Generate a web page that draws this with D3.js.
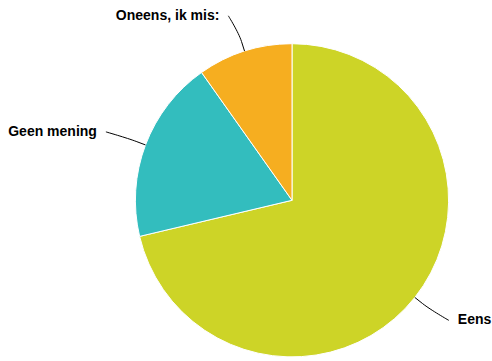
<!DOCTYPE html>
<html>
<head>
<meta charset="utf-8">
<script src="https://cdn.jsdelivr.net/npm/d3@7"></script>
<style>
html,body{margin:0;padding:0;background:#fff;}
svg{display:block;}
text{font-family:"Liberation Sans",Arial,Helvetica,sans-serif;font-weight:bold;font-size:14px;fill:#000;}
</style>
</head>
<body>
<svg id="chart" width="492" height="361"></svg>
<script>
const categories = ["Eens", "Geen mening", "Oneens, ik mis:"];
const values = [71.3, 18.9, 9.8];
const colors = ["#CDD427", "#33BDBE", "#F6AE20"];

const W = 492, H = 361;
const cx = 292, cy = 200.3, r = 156.6;
const svg = d3.select("#chart");
const g = svg.append("g").attr("transform", `translate(${cx},${cy})`);

const pie = d3.pie().sort(null).value(d => d.v);
const arcs = pie(categories.map((c, i) => ({c, v: values[i], col: colors[i]})));
const arc = d3.arc().innerRadius(0).outerRadius(r);

g.selectAll("path.slice").data(arcs).enter().append("path")
  .attr("class", "slice")
  .attr("d", arc)
  .attr("fill", d => d.data.col)
  .attr("stroke", "#fff")
  .attr("stroke-width", 1)
  .attr("stroke-linejoin", "round");

function polar(a, rad) { return [rad * Math.sin(a), -rad * Math.cos(a)]; }

const labelR = r + 37;
arcs.forEach(d => {
  const mid = (d.startAngle + d.endAngle) / 2;
  const right = Math.sin(mid) > 0;
  const [lx, ly] = polar(mid, labelR);
  const p2 = polar(mid, r + 10);
  const p4 = polar(mid, r);
  const sx = lx + (right ? 5 : -5);
  const c2 = [2 * p2[0] - p4[0], 2 * p2[1] - p4[1]];
  g.append("path")
    .attr("d", `M${sx},${ly}C${sx},${ly} ${c2[0]},${c2[1]} ${p2[0]},${p2[1]}L${p4[0]},${p4[1]}`)
    .attr("fill", "none")
    .attr("stroke", "#000")
    .attr("stroke-width", 1);
  g.append("text")
    .attr("x", lx + (right ? 14 : -14))
    .attr("y", ly - 1)
    .attr("dy", "0.35em")
    .attr("text-anchor", right ? "start" : "end")
    .text(d.data.c);
});
</script>
</body>
</html>
